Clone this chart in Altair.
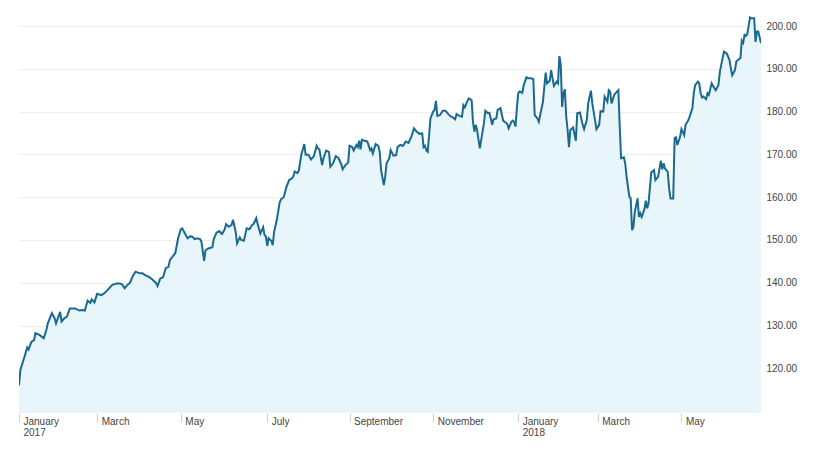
import altair as alt
import pandas as pd

# Days after 2017-01-03 (first session) and closing prices
days = [0, 1, 4, 6, 7, 9, 11, 12, 15, 18, 20, 21, 24, 26, 27, 30, 31, 33, 35, 37,
        41, 44, 46, 48, 50, 52, 53, 55, 57, 60, 62, 64, 68, 72, 75, 77, 79, 81, 83, 85,
        88, 90, 92, 95, 97, 100, 101, 103, 105, 107, 109, 110, 112, 114, 116, 118, 119, 121, 123, 125,
        127, 128, 130, 132, 133, 135, 136, 138, 141, 142, 144, 146, 148, 150, 151, 153, 155, 156, 158, 159,
        161, 162, 164, 166, 168, 170, 171, 173, 174, 176, 178, 179, 180, 181, 182, 184, 185, 186, 188, 190,
        191, 193, 195, 197, 199, 200, 201, 203, 204, 206, 207, 208, 209, 211, 213, 215, 217, 218, 219, 221,
        222, 224, 226, 227, 229, 231, 233, 235, 236, 238, 240, 241, 243, 244, 246, 247, 248, 249, 250, 252,
        254, 256, 257, 258, 260, 262, 263, 264, 266, 267, 268, 270, 271, 273, 275, 276, 278, 280, 282, 284,
        286, 288, 290, 292, 294, 295, 296, 297, 298, 300, 302, 303, 304, 305, 307, 309, 311, 313, 315, 316,
        318, 319, 321, 323, 324, 325, 327, 328, 330, 331, 332, 333, 334, 335, 336, 337, 339, 340, 342, 343,
        345, 346, 348, 349, 351, 352, 353, 355, 356, 357, 359, 360, 361, 362, 363, 364, 365, 367, 368, 370,
        371, 373, 375, 376, 378, 379, 380, 382, 384, 385, 387, 388, 390, 392, 393, 394, 395, 396, 397, 398,
        399, 400, 401, 402, 404, 406, 407, 409, 411, 412, 414, 415, 417, 418, 420, 421, 423, 424, 426, 427,
        429, 430, 431, 432, 434, 435, 437, 438, 439, 441, 442, 443, 445, 446, 447, 448, 449, 451, 452, 453,
        454, 456, 457, 458, 459, 461, 463, 464, 465, 466, 468, 469, 470, 471, 473, 474, 475, 477, 478, 479,
        480, 482, 483, 485, 486, 488, 489, 491, 492, 493, 495, 496, 497, 498, 499, 501, 502, 503, 505, 506,
        508, 510, 511, 513, 514, 516, 518, 519, 520, 522, 523, 525, 526, 527, 528, 529, 530, 531, 533, 534,
        536, 537, 538, 539, 541]

prices = [116.0, 119.6, 122.7, 124.9, 124.4, 126.2, 126.6, 128.2, 127.8, 127.0, 129.0, 130.5, 132.9, 131.7, 130.5, 133.2, 130.9, 131.7, 132.1, 134.0,
          134.0, 133.5, 133.6, 133.5, 135.8, 135.3, 136.1, 135.4, 137.4, 137.1, 137.5, 138.1, 139.5, 139.9, 139.7, 138.7, 139.5, 140.0, 141.6, 142.6,
          142.2, 142.2, 141.8, 141.3, 140.8, 139.9, 139.2, 141.0, 141.3, 143.4, 143.7, 145.3, 146.1, 147.0, 150.4, 152.5, 152.7, 151.5, 150.4, 150.9,
          150.6, 150.2, 150.4, 150.2, 149.6, 145.1, 147.6, 148.0, 148.3, 150.2, 151.7, 152.1, 151.4, 152.5, 153.7, 153.1, 153.5, 154.7, 151.9, 149.2,
          150.6, 150.0, 149.8, 152.7, 152.5, 153.5, 153.7, 155.1, 153.7, 151.5, 153.0, 151.2, 150.8, 148.6, 150.4, 149.8, 148.8, 151.9, 154.7, 158.7,
          159.5, 160.0, 162.4, 164.0, 164.4, 164.8, 166.0, 165.6, 166.2, 170.2, 171.2, 172.4, 169.9, 169.9, 168.8, 169.6, 172.0, 171.4, 171.2, 167.5,
          169.1, 170.9, 170.6, 167.1, 167.9, 169.6, 169.1, 167.7, 166.5, 167.5, 168.1, 172.0, 171.7, 170.9, 172.2, 171.7, 173.2, 171.2, 173.4, 173.2,
          173.0, 171.0, 171.4, 170.2, 172.4, 172.0, 170.6, 166.3, 162.8, 164.8, 167.9, 169.1, 171.0, 169.7, 169.8, 171.7, 172.2, 172.0, 173.0, 172.7,
          174.1, 176.1, 175.3, 174.8, 174.9, 171.7, 172.0, 170.9, 170.6, 178.4, 180.0, 180.4, 182.5, 179.0, 179.2, 180.2, 180.2, 179.4, 178.8, 178.7,
          178.2, 179.4, 179.0, 178.8, 181.5, 181.0, 182.5, 183.1, 182.7, 177.6, 175.3, 176.9, 175.7, 173.5, 171.4, 173.4, 177.3, 180.2, 179.6, 179.7,
          176.9, 178.2, 178.4, 180.4, 180.8, 179.4, 177.9, 177.4, 177.1, 176.1, 177.6, 177.9, 177.6, 176.5, 180.8, 184.3, 184.7, 184.4, 186.2, 188.0,
          187.8, 187.8, 187.6, 179.2, 178.4, 177.6, 179.2, 182.3, 189.1, 186.6, 187.2, 189.7, 186.0, 187.0, 186.6, 193.0, 190.9, 181.1, 184.3, 185.2,
          178.8, 175.7, 171.7, 175.7, 176.3, 173.2, 179.6, 179.8, 176.9, 175.9, 178.0, 181.9, 184.9, 181.9, 178.0, 175.9, 176.9, 180.1, 180.0, 183.5,
          182.3, 185.0, 184.7, 181.9, 183.9, 184.3, 185.0, 176.5, 169.1, 169.3, 167.9, 164.8, 160.1, 159.7, 152.3, 153.1, 156.6, 159.7, 155.4, 156.2,
          155.4, 157.2, 159.2, 157.4, 158.6, 165.8, 166.3, 164.0, 164.4, 164.8, 168.5, 166.5, 167.9, 166.7, 165.9, 162.1, 159.7, 159.7, 173.8, 174.0,
          172.2, 174.1, 175.9, 174.5, 176.9, 178.0, 178.8, 180.8, 184.3, 186.2, 187.0, 186.6, 184.3, 183.3, 183.5, 182.9, 184.3, 183.9, 186.6, 186.0,
          185.0, 186.2, 189.3, 192.5, 194.0, 193.6, 192.1, 190.1, 188.5, 189.7, 191.7, 192.3, 192.5, 196.6, 196.1, 197.9, 197.7, 198.1, 202.0, 201.8,
          201.8, 196.3, 198.7, 198.7, 196.0]

y_ticks = [120, 130, 140, 150, 160, 170, 180, 190, 200]
x_ticks = [(2017, 1, 3), (2017, 3, 1), (2017, 5, 1), (2017, 7, 3), (2017, 9, 1),
           (2017, 11, 1), (2018, 1, 2), (2018, 3, 1), (2018, 5, 1)]

base = pd.Timestamp("2017-01-03")
dates = [(base + pd.Timedelta(days=d)).strftime("%Y-%m-%dT00:00:00") for d in days]
df = pd.DataFrame({"date": dates, "price": prices})

FONT = "Liberation Sans"
LINE = "#1a6a90"
FILL = "#e8f6fb"

x_enc = alt.X(
    "date:T",
    scale=alt.Scale(domain=[alt.DateTime(year=2017, month=1, date=3),
                            alt.DateTime(year=2018, month=6, date=28)]),
    axis=alt.Axis(
        title=None,
        values=[alt.DateTime(year=y, month=m, date=d) for (y, m, d) in x_ticks],
        labelExpr="[timeFormat(datum.value, '%B'), month(datum.value) == 0 ? timeFormat(datum.value, '%Y') : '']",
        grid=False, domain=False, ticks=True, tickSize=9, tickColor="#d0d0d0",
        labelAlign="left", labelBaseline="top", labelPadding=-6, labelOffset=4,
        labelFont=FONT, labelFontSize=10, labelColor="#444444", labelLineHeight=11,
        labelOverlap=False, labelFlush=False,
    ),
)
y_enc = alt.Y(
    "price:Q",
    scale=alt.Scale(domain=[109.56, 203.74], zero=False, nice=False),
    axis=alt.Axis(
        title=None, orient="right", values=y_ticks, format=".2f",
        grid=True, gridColor="#eeeeee", gridWidth=1, domain=False, ticks=False,
        labelPadding=5, labelFont=FONT, labelFontSize=10, labelColor="#444444",
    ),
)

area = alt.Chart(df).mark_area(color=FILL, opacity=1, clip=True).encode(x=x_enc, y=y_enc)
line = alt.Chart(df).mark_line(color=LINE, strokeWidth=2, clip=True).encode(x="date:T", y="price:Q")

chart = (
    alt.layer(area, line)
    .properties(width=742, height=403, padding={"left": 10, "top": 2, "right": 5, "bottom": 5})
    .configure(background="white")
    .configure_view(stroke="transparent", strokeWidth=0)
)

chart.save("out.html", embed_options={"renderer": "svg", "actions": False})
